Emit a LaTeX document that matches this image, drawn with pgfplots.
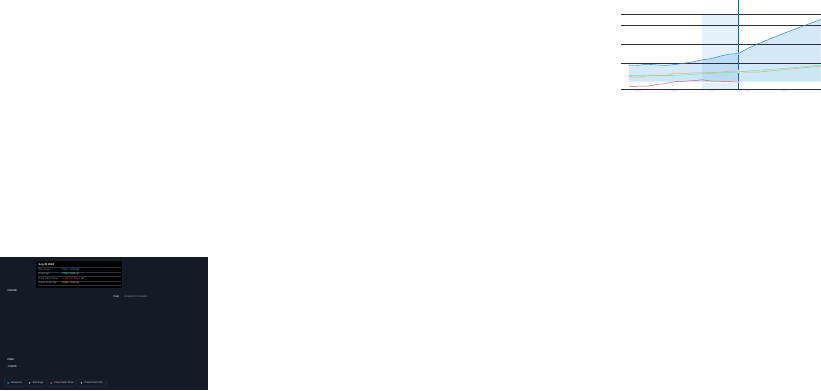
\documentclass[border=0pt]{standalone}
\usepackage{pgfplots}
\pgfplotsset{compat=1.18}
\usepgfplotslibrary{fillbetween}
\usepackage{fontspec}
\setmainfont{Liberation Sans}
\definecolor{bg}{HTML}{151B26}
\definecolor{grd}{HTML}{2A303C}
\definecolor{lgb}{HTML}{3A4050}
\definecolor{rev}{HTML}{2F8FDD}
\definecolor{ear}{HTML}{5DE8C8}
\definecolor{fcf}{HTML}{D9508A}
\definecolor{cop}{HTML}{E8AA5C}
\definecolor{txt}{HTML}{C8CCD4}
\definecolor{lab}{HTML}{9096A0}
\begin{document}
\begin{tikzpicture}[x=0.75pt,y=-0.75pt,font=\fontsize{8}{9}\selectfont]
\fill[bg] (0,0) rectangle (821,524);
\begin{axis}[at={(17,444)},anchor=south west,scale only axis,
 width=591pt,height=224.25pt,
 xmin=2021.53,xmax=2027.0,ymin=-2.08,ymax=18,
 axis line style={draw=none},
 xtick={2022,2023,2024,2025,2026},
 xticklabels={2022,2023,2024,2025,2026},
 ytick=\empty, tick style={draw=none},
 xticklabel style={text=txt,font=\fontsize{8}{9}\selectfont},
 clip=false]
\fill[rev,opacity=0.13] (axis cs:2023.75,-2.08) rectangle (axis cs:2024.75,18);
\foreach \g in {5,10,15,18} {\edef\tmp{\noexpand\draw[grd,line width=0.6pt] (axis cs:2021.53,\g) -- (axis cs:2027,\g);}\tmp}
\draw[grd,line width=0.6pt] (axis cs:2021.53,-2.08) -- (axis cs:2027,-2.08);
\addplot[name path=rev,rev,line width=1.6pt] coordinates {(2021.75,4.42)(2022,4.35)(2022.24,4.6)(2022.45,4.5)(2022.73,4.3)(2023,4.55)(2023.28,4.9)(2023.52,5.3)(2023.77,5.8)(2024,6.1)(2024.26,6.8)(2024.5,7.3)(2024.75,7.449)(2025,8.8)(2025.3,10.1)(2026,12.85)(2027,16.5)};
\addplot[name path=zero,draw=none] coordinates {(2021.75,0)(2027,0)};
\addplot[rev,opacity=0.2] fill between[of=rev and zero];
\addplot[name path=ear,ear,line width=1.4pt] coordinates {(2021.75,1.6)(2022.24,1.75)(2022.52,1.75)(2022.73,1.65)(2023,1.7)(2023.49,1.9)(2023.77,2.1)(2024,2.15)(2024.33,2.4)(2024.75,2.588)(2025,2.8)(2026,3.55)(2027,4.35)};
\addplot[ear,opacity=0.08] fill between[of=ear and zero];
\draw[white,line width=0.8pt] (axis cs:2021.53,0) -- (axis cs:2027,0);
\addplot[cop,line width=1.4pt] coordinates {(2021.75,1.35)(2022,1.2)(2022.24,1.5)(2022.52,1.6)(2022.76,1.6)(2023,2.3)(2023.28,2.2)(2023.49,2.3)(2024,2.4)(2024.26,2.55)(2024.54,2.8)(2024.75,2.759)(2025,2.5)(2025.3,2.55)(2026,3.2)(2027,4.1)};
\addplot[fcf,line width=1.4pt] coordinates {(2021.75,-1.35)(2022,-1.2)(2022.28,-1.2)(2022.52,-0.7)(2022.73,-0.55)(2023,0)(2023.49,0.25)(2023.75,0.5)(2024,0.15)(2024.33,0.1)(2024.75,-0.108)};
\draw[rev!60!bg,line width=0.8pt] (axis cs:2024.75,-2.08) -- (axis cs:2024.75,21.6);
\addplot[only marks,mark=*,mark size=3pt,draw=white,fill=rev] coordinates {(2024.75,7.449)};
\addplot[only marks,mark=*,mark size=3pt,draw=white,fill=ear] coordinates {(2024.75,2.588)};
\addplot[only marks,mark=*,mark size=3pt,draw=white,fill=cop] coordinates {(2024.75,2.759)};
\addplot[only marks,mark=*,mark size=3pt,draw=white,fill=fcf] coordinates {(2024.75,-0.108)};
\end{axis}
% labels
\node[anchor=west,text=white] at (24,132) {CN¥18b};
\node[anchor=west,text=white] at (24,402) {CN¥0};
\node[anchor=west,text=white] at (24,432) {-CN¥2b};
\node[anchor=east,text=white] at (474,156) {Past};
\node[anchor=west,text=lab] at (487,156) {Analysts Forecasts};
% tooltip
\fill[black] (142,16) rectangle (481,120);
\foreach \yy in {41,58,76,93,111} {\draw[grd] (148,\yy) -- (476,\yy);}
\node[anchor=west,text=white,font=\fontsize{8}{9}\selectfont\bfseries] at (148,31) {Sep 30 2024};
\node[anchor=west,text=lab] at (148,49) {Revenue};
\node[anchor=west,text=lab] at (148,66) {Earnings};
\node[anchor=west,text=lab] at (148,84) {Free Cash Flow};
\node[anchor=west,text=lab] at (148,101) {Cash From Op};
\node[anchor=west] at (240,49) {\textcolor{rev}{CN¥7.449b} \textcolor{txt}{/yr}};
\node[anchor=west] at (240,66) {\textcolor{ear}{CN¥2.588b} \textcolor{txt}{/yr}};
\node[anchor=west] at (240,84) {\textcolor{red!80!white}{-CN¥108.435m} \textcolor{txt}{/yr}};
\node[anchor=west] at (240,101) {\textcolor{cop}{CN¥2.759b} \textcolor{txt}{/yr}};
% legend
\foreach \a/\b/\c/\t in {17/97/rev/Revenue,102/181/ear/Earnings,187/300/fcf/Free Cash Flow,306/420/cop/Cash From Op} {
 \draw[lgb,rounded corners=3pt] (\a,483) rectangle (\b,509);
 \fill[\c] (\a+15,496) circle (3.5);
 \node[anchor=west,text=txt] at (\a+23,496) {\t};
}
\end{tikzpicture}
\end{document}
